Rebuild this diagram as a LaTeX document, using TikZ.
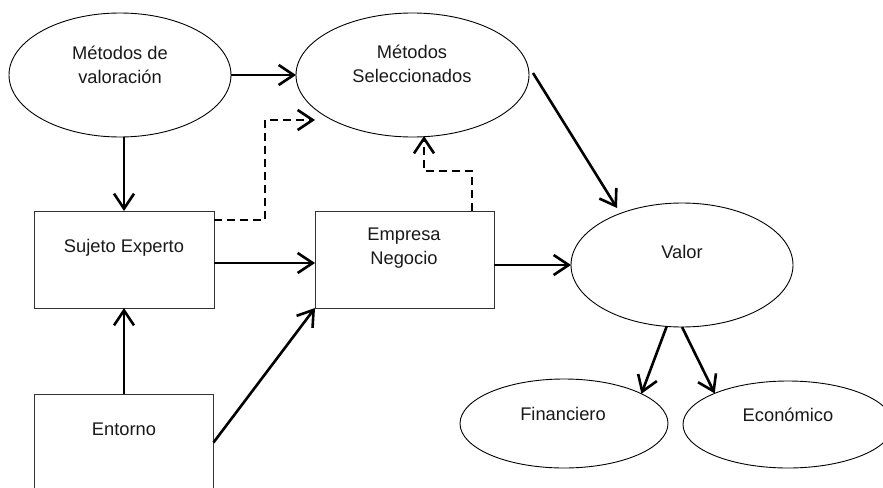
\documentclass[tikz,border=0pt]{standalone}
\usepackage{fontspec}
\setmainfont{Liberation Sans}
\usetikzlibrary{shapes.geometric,arrows.meta}
\begin{document}
\begin{tikzpicture}[x=1pt,y=-1pt,
  shapeline/.style={draw=black,line width=0.9pt,inner sep=0pt,outer sep=0pt},
  oval/.style={shapeline,ellipse},
  boxnode/.style={shapeline,rectangle,draw=black!80},
  lbl/.style={inner sep=0pt,outer sep=0pt,align=center,text height=13pt,text depth=0pt,
    font=\fontsize{18.3pt}{24.5pt}\selectfont,text=black!90},
  arr/.style={line width=2.6pt,-{Straight Barb[length=15pt,width=20pt]}},
  dasharr/.style={arr,dash pattern=on 8pt off 5pt}]
\useasboundingbox (0,0) rectangle (883,487);
\clip (0,0) rectangle (883,487);

% ellipses
\node[oval,minimum width=222pt,minimum height=124pt] (mv) at (120,75) {};
\node[oval,minimum width=233pt,minimum height=124pt] (ms) at (412.5,75) {};
\node[oval,minimum width=222pt,minimum height=124pt] (va) at (682,265) {};
\node[oval,minimum width=208pt,minimum height=89pt] (fi) at (564,423.5) {};
\node[oval,minimum width=210pt,minimum height=87pt] (ec) at (788,424.5) {};

% boxes
\node[boxnode,minimum width=180pt,minimum height=97pt] (se) at (124,259.5) {};
\node[boxnode,minimum width=179pt,minimum height=97pt] (em) at (404.5,259.5) {};
\node[boxnode,minimum width=179pt,minimum height=97pt] (en) at (124,442.5) {};

% labels (two-line labels are placed by their last line)
\node[lbl] (mv-t) at (120,77) {Métodos de\\valoración};
\node[lbl] (ms-t) at (412,76) {Métodos\\Seleccionados};
\node[lbl] (va-t) at (682,252) {Valor};
\node[lbl] (fi-t) at (563,414) {Financiero};
\node[lbl] (ec-t) at (788,415) {Económico};
\node[lbl] (se-t) at (124,246) {Sujeto Experto};
\node[lbl] (em-t) at (404,258) {Empresa\\Negocio};
\node[lbl] (en-t) at (124,429) {Entorno};

% helper points for the dashed routes and the free tips
\coordinate (d1bend) at (265,120);
\coordinate (d1end) at (315,120);
\coordinate (d2bend) at (424,171);
\coordinate (d2end) at (424,136);
\coordinate (vtip) at (617,208);

% solid connectors
\draw[arr] (mv.east) -- (ms.west);
\draw[arr] (se.north |- mv.south) -- (se.north);
\draw[arr] (en.north) -- (se.south);
\draw[arr] (en.east) -- (em.south west);
\draw[arr] ([yshift=-3.5pt]se.east) -- ([yshift=-3.5pt]em.west);
\draw[arr] (em.east |- va.west) -- (va.west);
\draw[arr] ([xshift=4pt,yshift=2pt]ms.east) -- (vtip);
\draw[arr] (va.256) -- (fi.21);
\draw[arr] (va.south) -- (ec.157);

% dashed connectors
\draw[dasharr] ([yshift=-9pt]se.north east) -| (d1bend) -- (d1end);
\draw[dasharr] ([xshift=67.5pt]em.north) |- (d2bend) -- (d2end);
\end{tikzpicture}
\end{document}
